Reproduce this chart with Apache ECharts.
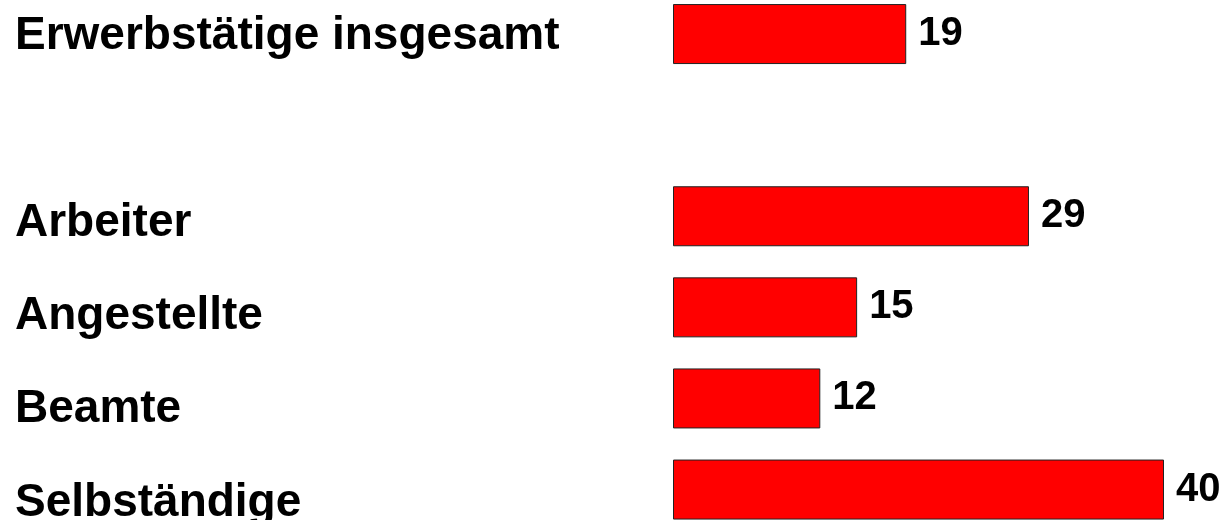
<!DOCTYPE html>
<html>
<head>
<meta charset="utf-8">
<script src="https://cdn.jsdelivr.net/npm/echarts@6/dist/echarts.min.js"></script>
<style>
  html, body { margin: 0; padding: 0; background: #fff; }
  #chart { width: 1225px; height: 520px; }
</style>
</head>
<body>
<div id="chart"></div>
<script>
// Share of each occupational group (per cent); the empty slot separates the total from the groups
const categories = ['Erwerbstätige insgesamt', '', 'Arbeiter', 'Angestellte', 'Beamte', 'Selbständige'];
const values = [19, null, 29, 15, 12, 40];
const xMax = 40;

const FONT = '"Liberation Sans", Arial, Helvetica, sans-serif';

const chart = echarts.init(document.getElementById('chart'), null, { renderer: 'canvas' });

chart.setOption({
  animation: false,
  backgroundColor: '#ffffff',
  grid: [
    // bars
    { left: 673, right: 61, top: -11.5, height: 546.6, containLabel: false, outerBoundsMode: 'none' },
    // category names on the left
    { left: 15, width: 600, top: -10.5, height: 560, containLabel: false, outerBoundsMode: 'none' }
  ],
  xAxis: [
    { gridIndex: 0, type: 'value', min: 0, max: xMax, show: false },
    { gridIndex: 1, type: 'value', min: 0, max: 1, show: false }
  ],
  yAxis: [
    {
      gridIndex: 0, type: 'category', data: categories, inverse: true,
      axisLine: { show: false }, axisTick: { show: false }, axisLabel: { show: false },
      splitLine: { show: false }
    },
    {
      gridIndex: 1, type: 'category', data: categories, inverse: true,
      axisLine: { show: false }, axisTick: { show: false }, splitLine: { show: false },
      axisLabel: {
        inside: true, align: 'left', margin: 0,
        color: '#000', fontFamily: FONT, fontWeight: 'bold', fontSize: 46
      }
    }
  ],
  series: [
    {
      type: 'bar',
      xAxisIndex: 0, yAxisIndex: 0,
      data: values,
      barWidth: 60,
      itemStyle: { color: '#ff0000', borderColor: '#222', borderWidth: 1 },
      label: {
        show: true, position: 'right', distance: 12,
        color: '#000', fontFamily: FONT, fontWeight: 'bold', fontSize: 40,
        formatter: p => (p.value == null ? '' : String(p.value))
      }
    }
  ]
});
</script>
</body>
</html>
